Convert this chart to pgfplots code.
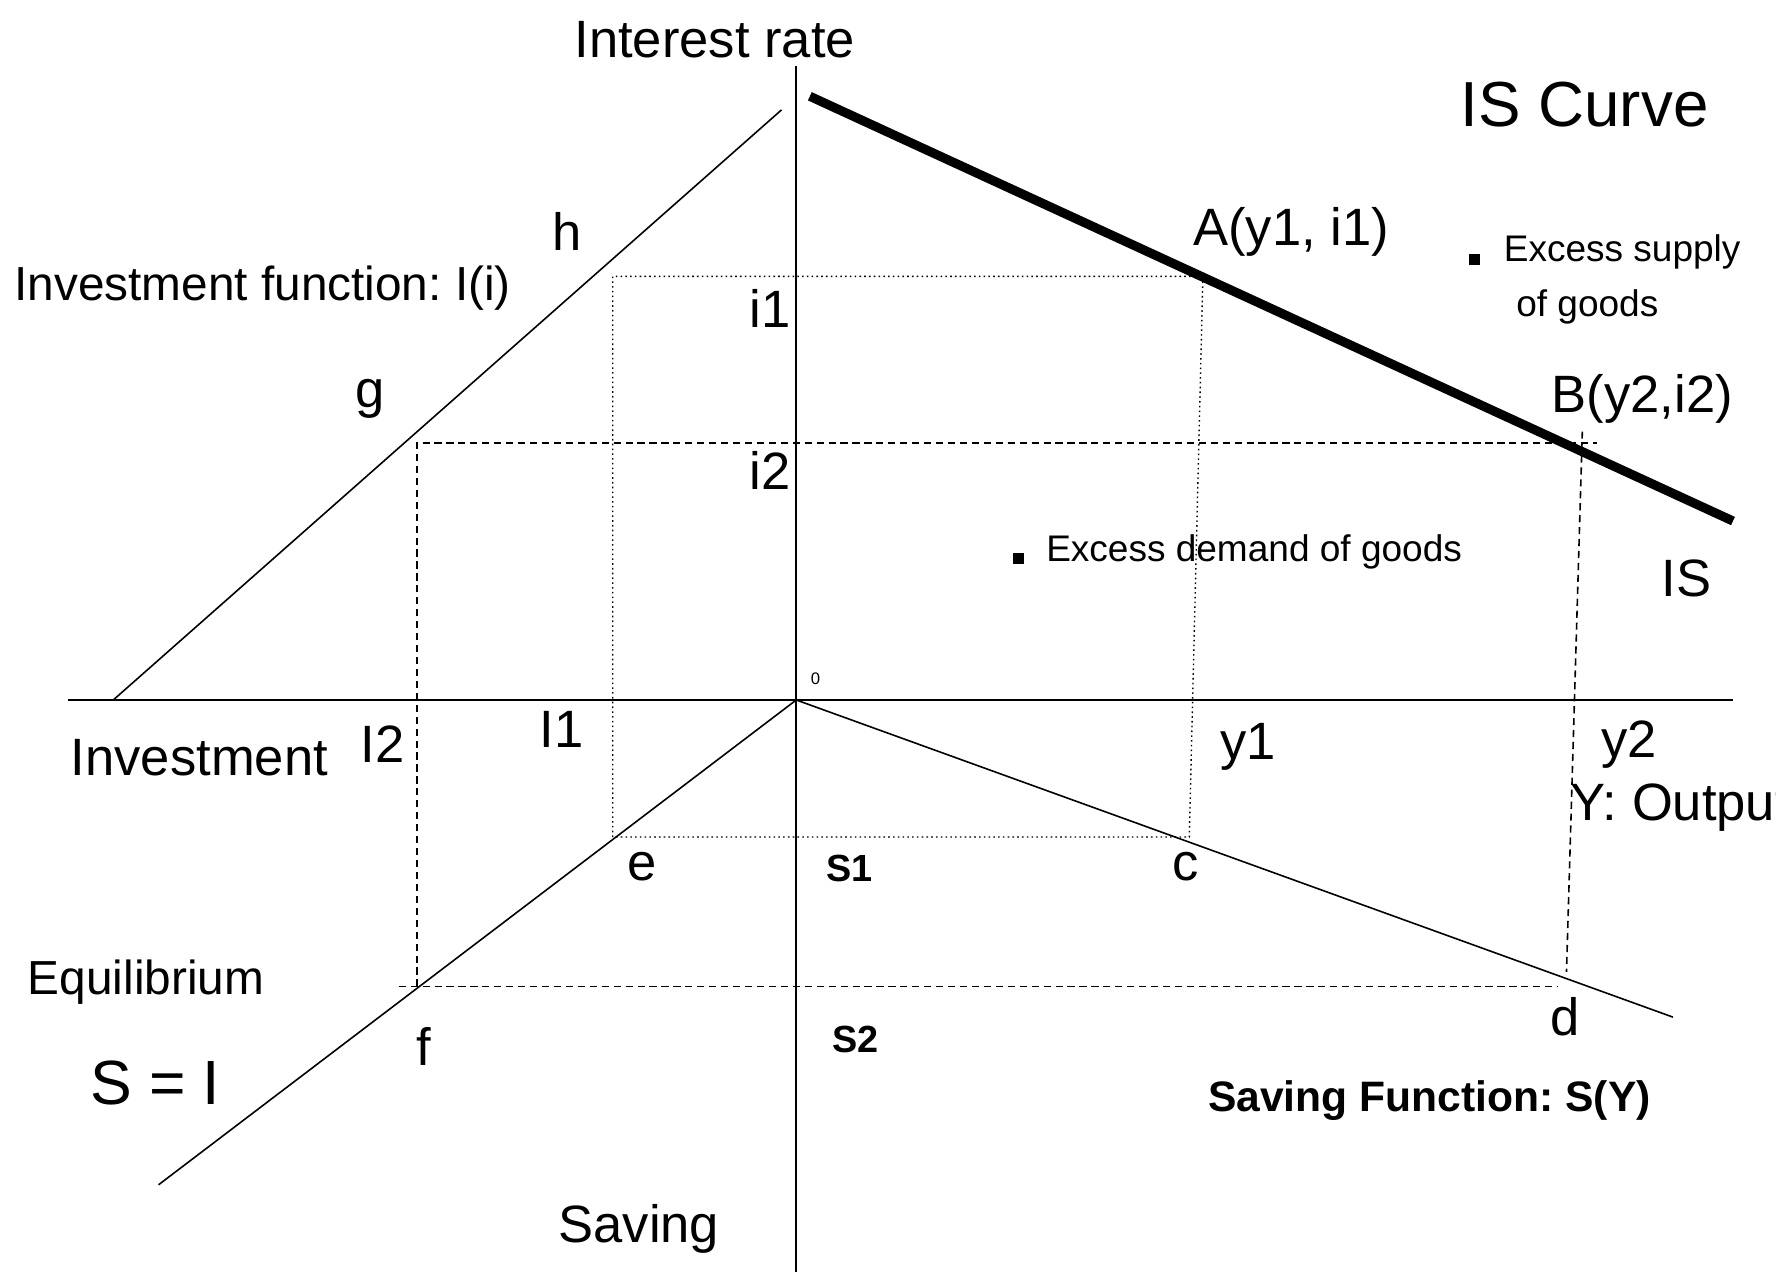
\documentclass[border=0pt]{standalone}
\usepackage{pgfplots}
\pgfplotsset{compat=1.18}
\usepackage{fontspec}
\setmainfont{Liberation Sans}
\frenchspacing
\newcommand{\fs}[1]{\fontsize{#1}{#1}\selectfont}
\begin{document}
\begin{tikzpicture}
\begin{axis}[width=15.68cm,height=11.23cm,scale only axis,
  xmin=0,xmax=1568,ymin=0,ymax=1123,y dir=reverse,
  axis lines=none,clip=false]
\path (axis cs:0,0) rectangle (axis cs:1568,1123);
% axes
\addplot[black,line width=0.4pt] coordinates {(703,58) (703,1123)};
\addplot[black,line width=0.4pt] coordinates {(60,618) (1530,618)};
% IS curve
\addplot[black,line width=2.3pt] coordinates {(715,85) (1530,460)};
% investment function
\addplot[black,line width=0.4pt] coordinates {(100,618) (690,97)};
% saving lines
\addplot[black,line width=0.4pt] coordinates {(703,618) (140,1046)};
\addplot[black,line width=0.4pt] coordinates {(703,618) (1477,898)};
% dotted rectangle (A)
\addplot[black,line width=0.35pt,dash pattern=on 0.4pt off 0.8pt] coordinates {(541,739) (541,244) (1062,244) (1050,739) (541,739)};
% dashed rectangle (B)
\addplot[black,line width=0.4pt,dash pattern=on 1.8pt off 1.2pt] coordinates {(368,871) (368,391) (1410,391)};
\addplot[black,line width=0.4pt,dash pattern=on 1.8pt off 1.2pt] coordinates {(1397,381) (1383,858)};
\addplot[black,line width=0.4pt,dash pattern=on 1.8pt off 1.2pt] coordinates {(352,871) (1375,871)};
% bullets
\addplot[only marks,mark=square*,mark size=1.2pt,black] coordinates {(899,493) (1302,229)};
% labels
\node[font=\fs{13.2}] at (axis cs:631,35) {Interest rate};
\node[font=\fs{16}] at (axis cs:1399,92) {IS Curve};
\node[font=\fs{13.2}] at (axis cs:501,204) {h};
\node[font=\fs{12},anchor=west,inner sep=0pt] at (axis cs:12,254) {Investment function: I(i)};
\node[font=\fs{13.2}] at (axis cs:1140,205) {A(y1, i1)};
\node[font=\fs{9.3},anchor=west,inner sep=0pt] at (axis cs:1327,222) {Excess supply};
\node[font=\fs{9.3},anchor=west,inner sep=0pt] at (axis cs:1338,271) {of goods};
\node[font=\fs{13.2}] at (axis cs:680,272) {i1};
\node[font=\fs{13.2}] at (axis cs:327,352) {g};
\node[font=\fs{13.2}] at (axis cs:1450,352) {B(y2,i2)};
\node[font=\fs{13.2}] at (axis cs:680,415) {i2};
\node[font=\fs{9.3},anchor=west,inner sep=0pt] at (axis cs:923,487) {Excess demand of goods};
\node[font=\fs{13.2}] at (axis cs:1489,511) {IS};
\node[font=\fs{4.2}] at (axis cs:720,599) {0};
\node[font=\fs{13.2}] at (axis cs:176,669) {Investment};
\node[font=\fs{13.2}] at (axis cs:338,657) {I2};
\node[font=\fs{13.2}] at (axis cs:496,644) {I1};
\node[font=\fs{13.2}] at (axis cs:1102,659) {y1};
\node[font=\fs{13.2}] at (axis cs:1438,657) {y2};
\node[font=\fs{13.2},anchor=west,inner sep=0pt,overlay] at (axis cs:1386,713) {Y: Output};
\node[font=\fs{13.2}] at (axis cs:567,765) {e};
\node[font=\fs{9.5}\bfseries] at (axis cs:750,767) {S1};
\node[font=\fs{13.2}] at (axis cs:1047,765) {c};
\node[font=\fs{12}] at (axis cs:129,867) {Equilibrium};
\node[font=\fs{13.2}] at (axis cs:1382,898) {d};
\node[font=\fs{13.2}] at (axis cs:374,924) {f};
\node[font=\fs{9.5}\bfseries] at (axis cs:755,918) {S2};
\node[font=\fs{15.7}] at (axis cs:137,956) {S = I};
\node[font=\fs{10.7}\bfseries] at (axis cs:1262,972) {Saving Function: S(Y)};
\node[font=\fs{13.2}] at (axis cs:564,1085) {Saving};
\end{axis}
\end{tikzpicture}
\end{document}
